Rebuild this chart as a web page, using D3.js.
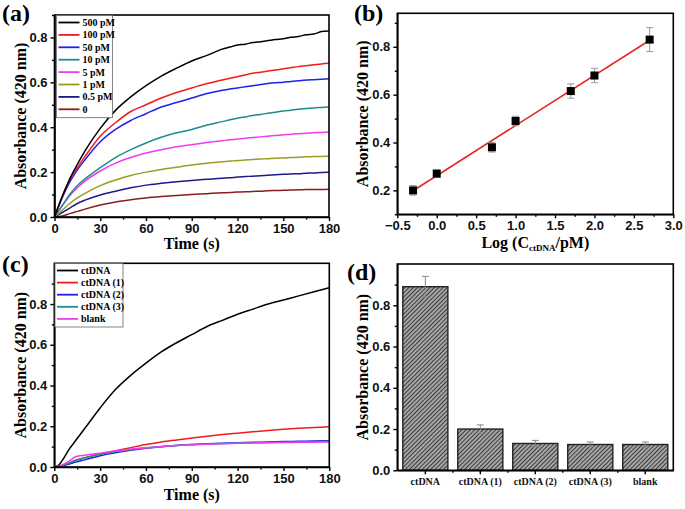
<!DOCTYPE html>
<html><head><meta charset="utf-8">
<script src="https://cdn.jsdelivr.net/npm/d3@7"></script>
<style>
body{margin:0;background:#fff;}
svg{display:block;}
.tick text{font-family:"Liberation Sans",Arial,sans-serif;font-weight:bold;font-size:13px;fill:#111;}
</style></head><body>
<svg id="c" width="685" height="509"></svg>
<script>
// ---------- DATA ----------
// Panel (a): absorbance kinetics at different ctDNA concentrations
const timeA = [0,5,10,15,20,30,40,50,60,70,80,90,100,110,115,120,125,130,135,140,145,150,155,160,165,170,175,180];
const seriesA = [
  {name:"500 pM", color:"#000000", values:[0,0.09,0.17,0.235,0.295,0.395,0.475,0.535,0.585,0.628,0.663,0.695,0.72,0.748,0.757,0.766,0.770,0.777,0.781,0.786,0.791,0.794,0.801,0.804,0.812,0.815,0.826,0.829]},
  {name:"100 pM", color:"#ee1c1c", values:[0,0.09,0.165,0.22,0.27,0.36,0.42,0.47,0.50,0.53,0.555,0.575,0.595,0.61,0.618,0.625,0.633,0.64,0.645,0.65,0.655,0.66,0.665,0.67,0.674,0.678,0.682,0.685]},
  {name:"50 pM",  color:"#1f1fee", values:[0,0.085,0.155,0.21,0.255,0.335,0.39,0.43,0.46,0.49,0.51,0.53,0.55,0.565,0.57,0.575,0.58,0.585,0.59,0.595,0.598,0.60,0.604,0.607,0.61,0.612,0.614,0.616]},
  {name:"10 pM",  color:"#1e8c8c", values:[0,0.05,0.10,0.14,0.17,0.22,0.265,0.30,0.33,0.355,0.375,0.39,0.41,0.425,0.433,0.44,0.446,0.452,0.457,0.462,0.467,0.472,0.476,0.48,0.483,0.486,0.488,0.49]},
  {name:"5 pM",   color:"#f03cf0", values:[0,0.05,0.095,0.13,0.16,0.205,0.24,0.265,0.285,0.30,0.313,0.322,0.332,0.34,0.344,0.347,0.351,0.354,0.357,0.36,0.363,0.366,0.369,0.371,0.373,0.375,0.377,0.379]},
  {name:"1 pM",   color:"#9c9c1e", values:[0,0.03,0.06,0.085,0.105,0.14,0.165,0.185,0.20,0.212,0.222,0.232,0.24,0.246,0.249,0.252,0.254,0.256,0.258,0.26,0.262,0.263,0.265,0.266,0.268,0.269,0.27,0.271]},
  {name:"0.5 pM", color:"#1a1a8a", values:[0,0.02,0.04,0.06,0.075,0.098,0.115,0.13,0.142,0.15,0.157,0.163,0.168,0.173,0.175,0.178,0.18,0.182,0.184,0.186,0.188,0.19,0.192,0.193,0.195,0.196,0.198,0.199]},
  {name:"0",      color:"#8a1e1e", values:[0,0.005,0.015,0.025,0.035,0.053,0.067,0.077,0.085,0.091,0.096,0.10,0.104,0.108,0.109,0.111,0.112,0.114,0.115,0.117,0.118,0.119,0.12,0.121,0.122,0.123,0.123,0.124]}
];
// Panel (b): calibration
const logConc = [-0.3,0,0.7,1.0,1.7,2.0,2.7];
const absB = [0.20,0.27,0.38,0.49,0.615,0.68,0.83];
const errB = [0.02,0.015,0.02,0.02,0.03,0.03,0.05];
// Panel (c): selectivity kinetics
const timeC = [0,3,5,10,14,20,30,40,50,60,70,80,90,100,110,120,130,140,150,160,170,180];
const seriesC = [
  {name:"ctDNA",     color:"#000000", values:[0,0.01,0.03,0.09,0.13,0.19,0.29,0.38,0.45,0.51,0.565,0.61,0.65,0.69,0.72,0.75,0.775,0.80,0.82,0.84,0.86,0.88]},
  {name:"ctDNA (1)", color:"#ee1c1c", values:[0,0.003,0.006,0.02,0.033,0.045,0.065,0.08,0.095,0.11,0.123,0.133,0.142,0.151,0.159,0.166,0.173,0.179,0.185,0.19,0.194,0.197]},
  {name:"ctDNA (2)", color:"#1f1fee", values:[0,0.003,0.006,0.015,0.024,0.035,0.055,0.07,0.082,0.092,0.10,0.106,0.11,0.114,0.117,0.119,0.121,0.123,0.125,0.126,0.128,0.129]},
  {name:"ctDNA (3)", color:"#1e8c8c", values:[0,0.003,0.007,0.02,0.032,0.045,0.062,0.075,0.085,0.094,0.101,0.106,0.11,0.113,0.115,0.117,0.119,0.12,0.122,0.123,0.125,0.126]},
  {name:"blank",     color:"#f03cf0", values:[0,0.004,0.01,0.03,0.05,0.058,0.068,0.078,0.087,0.094,0.10,0.105,0.109,0.112,0.114,0.116,0.118,0.119,0.12,0.121,0.122,0.123]}
];
// Panel (d): bar chart
const barCats = ["ctDNA","ctDNA (1)","ctDNA (2)","ctDNA (3)","blank"];
const barVals = [0.89,0.20,0.13,0.125,0.125];
const barErr  = [0.05,0.02,0.015,0.012,0.012];

const timeTicks = [0,30,60,90,120,150,180];
const yTicksA = [0,0.2,0.4,0.6,0.8];
const xTicksB = [-0.5,0,0.5,1.0,1.5,2.0,2.5,3.0];
const yTicksB = [0.2,0.4,0.6,0.8];

// ---------- DRAWING ----------
const svg = d3.select("#c");
const SERIF = '"Liberation Serif","Times New Roman",serif';
const fmt1 = d3.format(".1f");

const defs = svg.append("defs");
const pat = defs.append("pattern").attr("id","hatch").attr("patternUnits","userSpaceOnUse")
  .attr("width",3).attr("height",3).attr("patternTransform","rotate(45)");
pat.append("rect").attr("width",3).attr("height",3).attr("fill","#a8a8a8");
pat.append("line").attr("x1",0.5).attr("y1",0).attr("x2",0.5).attr("y2",3).attr("stroke","#3c3c3c").attr("stroke-width",1.1);

function frame(g, L, R, T, B){
  g.append("rect").attr("x",L).attr("y",T).attr("width",R-L).attr("height",B-T)
    .attr("fill","none").attr("stroke","#000").attr("stroke-width",1.6);
}
function styleAxis(a){
  a.select(".domain").attr("stroke","#000").attr("stroke-width",1.6);
  a.selectAll(".tick line").attr("stroke","#000").attr("stroke-width",1.4);
}
function axes(g, x, y, L, R, T, B, xt, xminor, yt, yminor, xfmt, yfmt){
  const ax = g.append("g").attr("transform",`translate(0,${B})`)
    .call(d3.axisBottom(x).tickValues(xt).tickSize(4).tickSizeOuter(0).tickPadding(2.5).tickFormat(xfmt));
  styleAxis(ax);
  const axm = g.append("g").attr("transform",`translate(0,${B})`)
    .call(d3.axisBottom(x).tickValues(xminor).tickSize(2.5).tickSizeOuter(0).tickFormat(""));
  styleAxis(axm); axm.select(".domain").remove();
  const ay = g.append("g").attr("transform",`translate(${L},0)`)
    .call(d3.axisLeft(y).tickValues(yt).tickSize(4).tickSizeOuter(0).tickPadding(3).tickFormat(yfmt));
  styleAxis(ay);
  const aym = g.append("g").attr("transform",`translate(${L},0)`)
    .call(d3.axisLeft(y).tickValues(yminor).tickSize(2.5).tickSizeOuter(0).tickFormat(""));
  styleAxis(aym); aym.select(".domain").remove();
  frame(g,L,R,T,B);
}
function ytitle(g, cx, cy){
  g.append("text").attr("transform",`translate(${cx},${cy}) rotate(-90)`)
    .attr("text-anchor","middle").attr("dominant-baseline","central")
    .style("font-family",SERIF).style("font-weight","bold").style("font-size","16px")
    .text("Absorbance (420 nm)");
}
function xtitle(g, cx, y, txt){
  return g.append("text").attr("x",cx).attr("y",y).attr("text-anchor","middle")
    .style("font-family",SERIF).style("font-weight","bold").style("font-size","16px").text(txt);
}
function panelLabel(g, x, y, t){
  g.append("text").attr("x",x).attr("y",y).style("font-family",SERIF).style("font-weight","bold")
    .style("font-size","24px").text(t);
}
function legend(g, items, x0, y0, w, step){
  const h = step*items.length + 3;
  g.append("rect").attr("x",x0).attr("y",y0).attr("width",w).attr("height",h)
    .attr("fill","#fff").attr("stroke","#666").attr("stroke-width",0.8);
  items.forEach((s,i)=>{
    const yy = y0 + 7 + i*step;
    g.append("line").attr("x1",x0+2).attr("x2",x0+23).attr("y1",yy).attr("y2",yy)
      .attr("stroke",s.color).attr("stroke-width",1.8);
    g.append("text").attr("x",x0+26).attr("y",yy).attr("dominant-baseline","central")
      .style("font-family",SERIF).style("font-weight","bold").style("font-size","10px").text(s.name);
  });
}
function minorRange(a,b,s){ const r=[]; for(let v=a; v<=b+1e-9; v+=s) r.push(+v.toFixed(4)); return r; }

// ----- Panel (a)
{
  const L=54.5,R=329,T=15,B=217;
  const g = svg.append("g");
  const x = d3.scaleLinear().domain([0,180]).range([L,R]);
  const y = d3.scaleLinear().domain([0,0.9]).range([B,T]);
  const line = d3.line().x((d,i)=>x(timeA[i])).y(d=>y(d)).curve(d3.curveMonotoneX);
  seriesA.slice().reverse().forEach(s=>{
    g.append("path").attr("d",line(s.values)).attr("fill","none").attr("stroke",s.color).attr("stroke-width",1.5);
  });
  axes(g,x,y,L,R,T,B,timeTicks,minorRange(15,165,30),yTicksA,minorRange(0.1,0.9,0.2),d3.format("d"),fmt1);
  legend(g, seriesA, 56.5, 15.5, 56, 12.4);
  ytitle(g, 20, (T+B)/2);
  xtitle(g, (L+R)/2, 249, "Time (s)");
  panelLabel(g, 2, 21, "(a)");
}
// ----- Panel (b)
{
  const L=397.3,R=673.3,T=13.3,B=214.3;
  const g = svg.append("g");
  const x = d3.scaleLinear().domain([-0.5,3.0]).range([L,R]);
  const y = d3.scaleLinear().domain([0.1,0.94]).range([B,T]);
  // least squares fit
  const mx = d3.mean(logConc), my = d3.mean(absB);
  const slope = d3.sum(logConc,(v,i)=>(v-mx)*(absB[i]-my)) / d3.sum(logConc,v=>(v-mx)*(v-mx));
  const icpt = my - slope*mx;
  const xe = d3.extent(logConc);
  g.append("path").attr("d", d3.line().x(d=>x(d)).y(d=>y(slope*d+icpt))(xe))
    .attr("stroke","#e8261f").attr("stroke-width",1.6).attr("fill","none");
  logConc.forEach((v,i)=>{
    const cx=x(v), y1=y(absB[i]+errB[i]), y2=y(absB[i]-errB[i]);
    g.append("line").attr("x1",cx).attr("x2",cx).attr("y1",y1).attr("y2",y2).attr("stroke","#999").attr("stroke-width",1);
    [y1,y2].forEach(yy=>g.append("line").attr("x1",cx-3.5).attr("x2",cx+3.5).attr("y1",yy).attr("y2",yy).attr("stroke","#999").attr("stroke-width",1));
    g.append("rect").attr("x",cx-4).attr("y",y(absB[i])-4).attr("width",8).attr("height",8).attr("fill","#000");
  });
  axes(g,x,y,L,R,T,B,xTicksB,minorRange(-0.25,2.75,0.5),yTicksB,[0.1,0.3,0.5,0.7,0.9],fmt1,fmt1);
  ytitle(g, 362, (T+B)/2);
  const t = xtitle(g, (L+R)/2, 248, "");
  t.append("tspan").text("Log (C");
  t.append("tspan").attr("dy",3).style("font-size","9px").text("ctDNA");
  t.append("tspan").attr("dy",-3).text("/pM)");
  panelLabel(g, 354, 21, "(b)");
}
// ----- Panel (c)
{
  const L=54.3,R=329.3,T=263.3,B=467;
  const g = svg.append("g");
  const x = d3.scaleLinear().domain([0,180]).range([L,R]);
  const y = d3.scaleLinear().domain([0,1.0]).range([B,T]);
  const line = d3.line().x((d,i)=>x(timeC[i])).y(d=>y(d)).curve(d3.curveMonotoneX);
  seriesC.forEach(s=>{
    g.append("path").attr("d",line(s.values)).attr("fill","none").attr("stroke",s.color).attr("stroke-width",1.5);
  });
  axes(g,x,y,L,R,T,B,timeTicks,minorRange(15,165,30),yTicksA,minorRange(0.1,0.9,0.2),d3.format("d"),fmt1);
  legend(g, seriesC, 55, 263.5, 68, 12.1);
  ytitle(g, 20, (T+B)/2);
  xtitle(g, (L+R)/2, 500, "Time (s)");
  panelLabel(g, 2, 272, "(c)");
}
// ----- Panel (d)
{
  const L=397.3,R=673.3,T=264,B=470.3;
  const g = svg.append("g");
  const x = d3.scaleBand().domain(barCats).range([L,R]).paddingInner(0.18).paddingOuter(0.1);
  const y = d3.scaleLinear().domain([0,1.0]).range([B,T]);
  barCats.forEach((c,i)=>{
    g.append("rect").attr("x",x(c)).attr("y",y(barVals[i])).attr("width",x.bandwidth()).attr("height",B-y(barVals[i]))
      .attr("fill","url(#hatch)").attr("stroke","#222").attr("stroke-width",1.4);
    const cx = x(c)+x.bandwidth()/2, y1=y(barVals[i]+barErr[i]), y2=y(barVals[i]-barErr[i]);
    g.append("line").attr("x1",cx).attr("x2",cx).attr("y1",y1).attr("y2",y2).attr("stroke","#888").attr("stroke-width",1);
    [y1,y2].forEach(yy=>g.append("line").attr("x1",cx-3.5).attr("x2",cx+3.5).attr("y1",yy).attr("y2",yy).attr("stroke","#888").attr("stroke-width",1));
  });
  const ax = g.append("g").attr("transform",`translate(0,${B})`)
    .call(d3.axisBottom(x).tickSize(4).tickSizeOuter(0).tickPadding(4));
  styleAxis(ax);
  ax.selectAll(".tick text").style("font-family",SERIF).style("font-size","10px").style("font-weight","bold");
  const bounds = barCats.slice(1).map(c=>x(c) - x.step()*x.paddingInner()/2);
  bounds.forEach(bx=>g.append("line").attr("x1",bx).attr("x2",bx).attr("y1",B).attr("y2",B+2.5).attr("stroke","#000").attr("stroke-width",1.4));
  const ay = g.append("g").attr("transform",`translate(${L},0)`)
    .call(d3.axisLeft(y).tickValues(yTicksA).tickSize(4).tickSizeOuter(0).tickPadding(3).tickFormat(fmt1));
  styleAxis(ay);
  const aym = g.append("g").attr("transform",`translate(${L},0)`)
    .call(d3.axisLeft(y).tickValues(minorRange(0.1,0.9,0.2)).tickSize(2.5).tickSizeOuter(0).tickFormat(""));
  styleAxis(aym); aym.select(".domain").remove();
  frame(g,L,R,T,B);
  ytitle(g, 362, (T+B)/2);
  panelLabel(g, 347, 280, "(d)");
}
</script></body></html>
